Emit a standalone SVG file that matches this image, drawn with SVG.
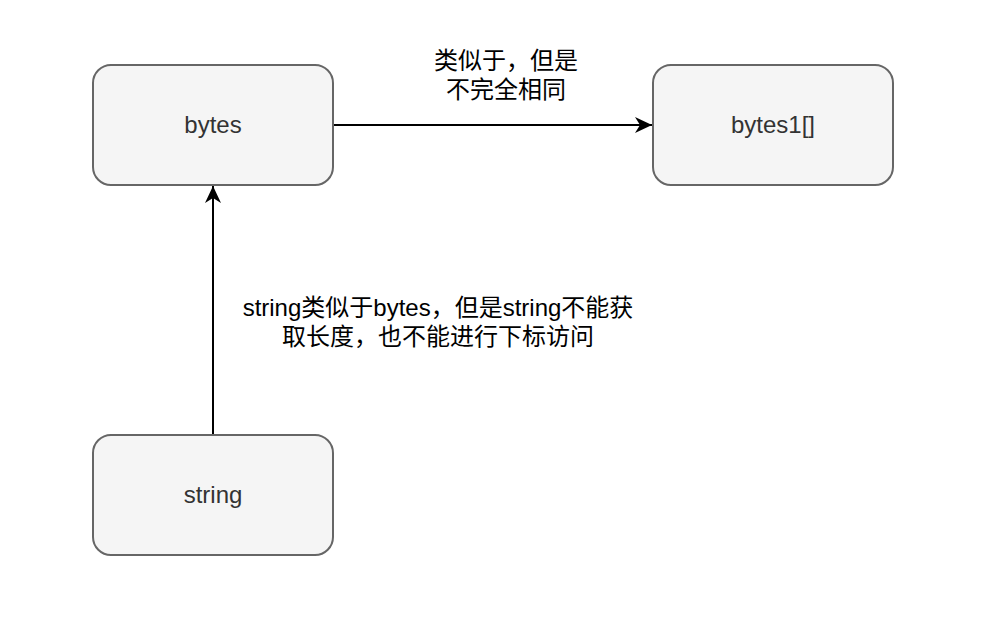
<svg xmlns="http://www.w3.org/2000/svg" width="1008" height="634" viewBox="0 0 1008 634">
<defs>
<style>
.node rect{fill:#f5f5f5;stroke:#666666;stroke-width:2}
.node text{font-family:"Liberation Sans","Noto Sans CJK SC",sans-serif;font-size:24px;fill:#333333;text-anchor:middle}
.edge{stroke:#000000;stroke-width:2;fill:none}
.lbl{font-family:"Liberation Sans","Noto Sans CJK SC",sans-serif;font-size:24px;fill:#000000;text-anchor:middle}
</style>
<marker id="arrow" markerUnits="userSpaceOnUse" markerWidth="20" markerHeight="20" refX="17" refY="8" orient="auto" viewBox="0 0 20 16">
<path d="M17,8 L0,0 L5,8 L0,16 Z" fill="#000000" stroke="none"/>
</marker>
</defs>
<rect width="1008" height="634" fill="#ffffff"/>
<g id="connectors">
<path class="edge" d="M333,125 L652,125" marker-end="url(#arrow)"/>
<path class="edge" d="M213,435 L213,186" marker-end="url(#arrow)"/>
<text class="lbl" x="506" y="69">类似于，但是</text>
<text class="lbl" x="506" y="98">不完全相同</text>
<text class="lbl" x="438" y="316">string类似于bytes，但是string不能获</text>
<text class="lbl" x="438" y="345">取长度，也不能进行下标访问</text>
</g>
<g id="node-bytes" class="node">
<rect x="93" y="65" width="240" height="120" rx="18" ry="18"/>
<text x="213" y="133">bytes</text>
</g>
<g id="node-bytes1" class="node">
<rect x="653" y="65" width="240" height="120" rx="18" ry="18"/>
<text x="773" y="133">bytes1[]</text>
</g>
<g id="node-string" class="node">
<rect x="93" y="435" width="240" height="120" rx="18" ry="18"/>
<text x="213" y="503">string</text>
</g>
</svg>
